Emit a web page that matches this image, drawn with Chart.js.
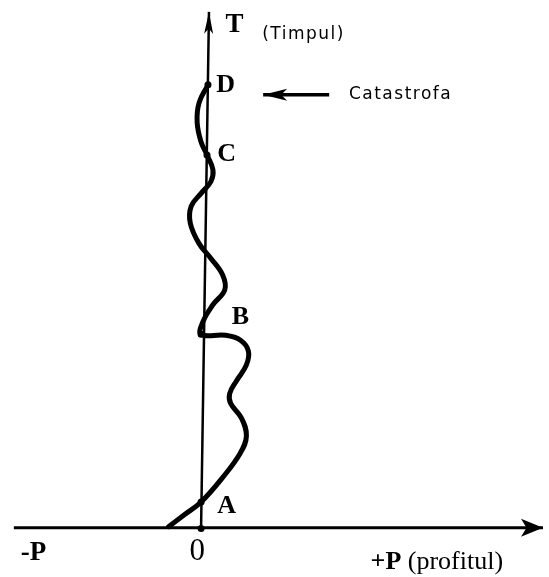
<!DOCTYPE html>
<html>
<head>
<meta charset="utf-8">
<script src="https://cdn.jsdelivr.net/npm/chart.js@4/dist/chart.umd.min.js"></script>
<style>
  html, body { margin: 0; padding: 0; background: #fff; }
  #wrap { width: 549px; height: 577px; }
</style>
</head>
<body>
<div id="wrap"><canvas id="grafic" width="549" height="577"></canvas></div>
<script>
// curba profitului in timp: P = profit, T = timp
const curbaP = [-33, -17, 0, 22, 40, 46, 41, 30, 29, 36, 46, 48, 40, 25, 0,
                2, 12, 24, 22, 10, -2, -11, -10, 0, 10, 12, 6, 0, -4, -2, 7];
const curbaT = [1, 13, 26, 51, 76, 93, 111, 126, 136, 149, 165, 179, 190, 195, 196,
                209, 226, 241, 256, 273, 288, 309, 326, 339, 351, 363, 378, 391, 411, 431, 449];

// punctele marcate A, B, C, D si originea
const punctP = [0, 0, 0, 6, 7];
const punctT = [-1, 26, 196, 378, 449];

// axe
const axaP = [-190, 347];
const axaT = [0, 523];
const axaVertP = [0, 8];

// sageata "Catastrofa"
const sageataP = [130, 63];
const sageataT = [439, 439];

// etichete
const etichete = [
  { text: 'T', p: 34, t: 510, font: 'bold 27px "Liberation Serif"', align: 'center' },
  { text: '(Timpul)', p: 62, t: 500, font: '17px "DejaVu Sans"', align: 'left', sp: 1.5 },
  { text: 'D', p: 25, t: 449, font: 'bold 26px "Liberation Serif"', align: 'center' },
  { text: 'Catastrofa', p: 150, t: 439, font: '17px "DejaVu Sans"', align: 'left', sp: 1.5 },
  { text: 'C', p: 26, t: 379, font: 'bold 26px "Liberation Serif"', align: 'center' },
  { text: 'B', p: 40, t: 213, font: 'bold 26px "Liberation Serif"', align: 'center' },
  { text: 'A', p: 26, t: 22, font: 'bold 26px "Liberation Serif"', align: 'center' },
  { text: '-P', p: -170, t: -26, font: 'bold 27px "Liberation Serif"', align: 'center' },
  { text: '0', p: -4, t: -25, font: '31px "Liberation Serif"', align: 'center' }
];

const pct = (ps, ts) => ps.map((p, i) => ({ x: p, y: ts[i] }));

const sagetiPlugin = {
  id: 'sageti',
  afterDatasetsDraw(chart) {
    const ctx = chart.ctx;
    chart.data.datasets.forEach((ds, i) => {
      if (!ds.varf) return;
      const pts = chart.getDatasetMeta(i).data;
      const a = pts[pts.length - 2], b = pts[pts.length - 1];
      const ang = Math.atan2(b.y - a.y, b.x - a.x);
      const L = ds.varf[0], W = ds.varf[1];
      ctx.save();
      ctx.translate(b.x, b.y);
      ctx.rotate(ang);
      ctx.fillStyle = '#000';
      ctx.beginPath();
      ctx.moveTo(0, 0);
      ctx.lineTo(-L, -W);
      ctx.lineTo(-L * 0.75, 0);
      ctx.lineTo(-L, W);
      ctx.closePath();
      ctx.fill();
      ctx.restore();
    });
  }
};

const textePlugin = {
  id: 'texte',
  afterDraw(chart) {
    const ctx = chart.ctx;
    const sx = chart.scales.x, sy = chart.scales.y;
    ctx.save();
    ctx.fillStyle = '#000';
    ctx.textBaseline = 'middle';
    etichete.forEach(e => {
      ctx.font = e.font;
      ctx.textAlign = e.align;
      ctx.letterSpacing = (e.sp || 0) + 'px';
      ctx.fillText(e.text, sx.getPixelForValue(e.p), sy.getPixelForValue(e.t));
    });
    ctx.letterSpacing = '0px';
    // +P (profitul)
    let x = sx.getPixelForValue(172), y = sy.getPixelForValue(-35);
    ctx.textAlign = 'left';
    ctx.font = 'bold 26px "Liberation Serif"';
    ctx.fillText('+P', x, y);
    x += ctx.measureText('+P ').width;
    ctx.font = '26px "Liberation Serif"';
    ctx.fillText('(profitul)', x, y);
    ctx.restore();
  }
};

new Chart(document.getElementById('grafic'), {
  type: 'scatter',
  data: {
    datasets: [
      { data: pct(axaP, [0, 0]), showLine: true, borderColor: '#000', borderWidth: 3, pointRadius: 0, varf: [22, 9] },
      { data: pct(axaVertP, axaT), showLine: true, borderColor: '#000', borderWidth: 2.5, pointRadius: 0, varf: [22, 4.5] },
      { data: pct(sageataP, sageataT), showLine: true, borderColor: '#000', borderWidth: 3.5, pointRadius: 0, varf: [24, 6] },
      { data: pct(curbaP, curbaT), showLine: true, borderColor: '#000', borderWidth: 5, tension: 0.4,
        pointRadius: 0, borderCapStyle: 'round', borderJoinStyle: 'round' },
      { data: pct(punctP, punctT), pointRadius: 3.5, pointBackgroundColor: '#000', pointBorderWidth: 0 }
    ]
  },
  options: {
    responsive: false,
    animation: false,
    layout: { padding: 0 },
    plugins: { legend: { display: false }, tooltip: { enabled: false } },
    scales: {
      x: { type: 'linear', min: -200, max: 349, display: false },
      y: { type: 'linear', min: -46, max: 531, display: false }
    }
  },
  plugins: [sagetiPlugin, textePlugin]
});
</script>
</body>
</html>
